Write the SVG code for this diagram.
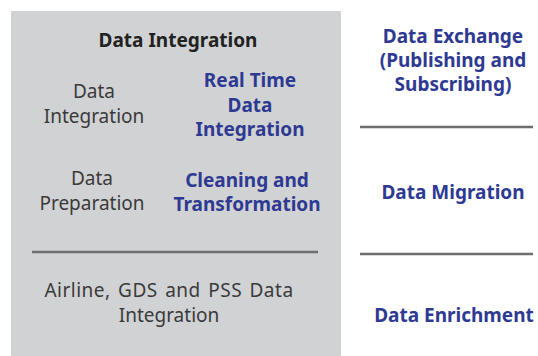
<svg xmlns="http://www.w3.org/2000/svg" width="538" height="356" viewBox="0 0 538 356">
<style>
text{font-family:"Noto Sans","Open Sans","Liberation Sans",sans-serif;font-size:19px;text-anchor:middle}
.h{font-weight:bold;fill:#222}
.g{fill:#3a3a3a}
.b{font-weight:bold;fill:#2e3a92}
.rule{stroke:#6d6e70;stroke-width:2.5}
</style>
<rect x="0" y="0" width="538" height="356" fill="#fff"/>
<g id="panel">
<rect x="11" y="11" width="330" height="345" fill="#d1d2d4"/>
<text class="h" x="178" y="47">Data Integration</text>
</g>
<g id="data-integration">
<text class="g" x="94" y="98">Data</text>
<text class="g" x="94" y="123">Integration</text>
</g>
<g id="real-time">
<text class="b" x="250" y="87">Real Time</text>
<text class="b" x="250" y="112">Data</text>
<text class="b" x="250" y="136">Integration</text>
</g>
<g id="data-preparation">
<text class="g" x="92" y="185">Data</text>
<text class="g" x="92" y="210">Preparation</text>
</g>
<g id="cleaning">
<text class="b" x="247" y="187">Cleaning and</text>
<text class="b" x="247" y="211">Transformation</text>
</g>
<g id="airline">
<text class="g" x="169" y="297" letter-spacing="0.5" word-spacing="2">Airline, GDS and PSS Data</text>
<text class="g" x="169" y="322">Integration</text>
</g>
<g id="data-exchange">
<text class="b" x="453" y="43">Data Exchange</text>
<text class="b" x="453" y="67">(Publishing and</text>
<text class="b" x="453" y="91">Subscribing)</text>
</g>
<g id="data-migration">
<text class="b" x="453" y="199">Data Migration</text>
</g>
<g id="data-enrichment">
<text class="b" x="454" y="322">Data Enrichment</text>
</g>
<g id="connectors">
<line class="rule" x1="32" y1="252" x2="318" y2="252"/>
<line class="rule" x1="360" y1="127" x2="533" y2="127"/>
<line class="rule" x1="360" y1="254" x2="533" y2="254"/>
</g>
</svg>
